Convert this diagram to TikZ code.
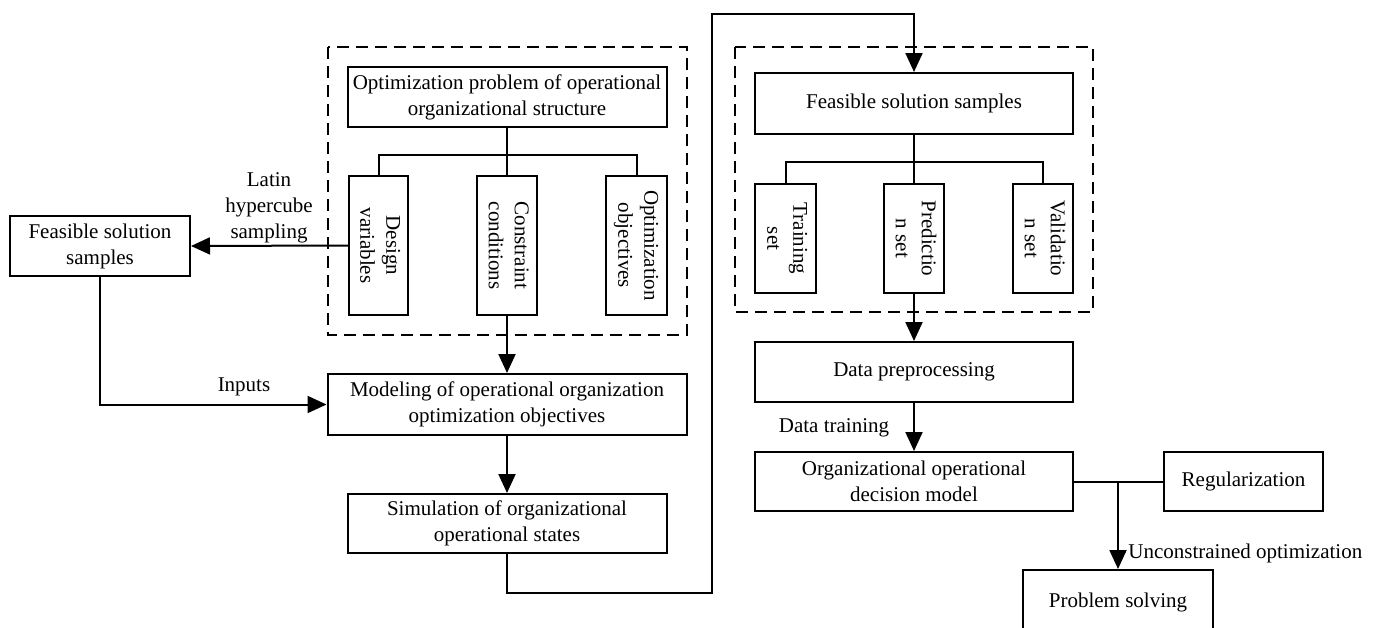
\documentclass[tikz,border=0pt]{standalone}
\usepackage{fontspec}
\setmainfont{Liberation Serif}
\usepackage{graphicx}
\usetikzlibrary{arrows.meta}
\newcommand{\vtext}[1]{\rotatebox{-90}{\begin{tabular}{@{}c@{}}#1\end{tabular}}}
\begin{document}
\begin{tikzpicture}[x=0.5pt,y=-0.5pt,
  box/.style={draw, line width=1pt, inner sep=0pt, align=center, font=\fontsize{10.5}{13}\selectfont},
  lbl/.style={inner sep=0pt, align=center, font=\fontsize{10.5}{13}\selectfont},
  line/.style={line width=1pt},
  arr/.style={line width=1pt, -{Triangle[length=9.5pt,width=8.5pt]}},
  dashedbox/.style={line width=1pt, dash pattern=on 6pt off 3.5pt}]
\useasboundingbox (0,0) rectangle (1379,627);
% left group
\draw[dashedbox] (328,47) rectangle (687,335);
\node[box, minimum width=159.5pt, minimum height=30pt] (opt) at (507,97) {Optimization problem of operational\\organizational structure};
\node[box, minimum width=29.5pt, minimum height=69.5pt] (dv) at (378.5,245.5) {\vtext{Design\\variables}};
\node[box, minimum width=30pt, minimum height=69.5pt] (cc) at (507,245.5) {\vtext{Constraint\\conditions}};
\node[box, minimum width=30.5pt, minimum height=69.5pt] (oo) at (636.5,245.5) {\vtext{Optimization\\objectives}};
\node[box, minimum width=90pt, minimum height=30pt] (fsl) at (100,246) {Feasible solution\\samples};
\node[box, minimum width=179.5pt, minimum height=30.5pt] (mod) at (507,404.5) {Modeling of operational organization\\optimization objectives};
\node[box, minimum width=159.5pt, minimum height=29.5pt] (sim) at (507,523.5) {Simulation of organizational\\operational states};
% right group
\draw[dashedbox] (735,47) rectangle (1093,312);
\node[box, minimum width=159pt, minimum height=30.5pt] (fsr) at (914,103.5) {Feasible solution samples};
\node[box, minimum width=30.5pt, minimum height=54.5pt] (ts) at (785.5,238.5) {\vtext{Training\\set}};
\node[box, minimum width=30pt, minimum height=54.5pt] (pset) at (914,238.5) {\vtext{Predictio\\n set}};
\node[box, minimum width=30pt, minimum height=54.5pt] (vset) at (1043,238.5) {\vtext{Validatio\\n set}};
\node[box, minimum width=159pt, minimum height=30pt] (dp) at (914,372) {Data preprocessing};
\node[box, minimum width=159pt, minimum height=29.5pt] (odm) at (914,481.5) {Organizational operational\\decision model};
\node[box, minimum width=79.5pt, minimum height=29.5pt] (reg) at (1243.5,481.5) {Regularization};
\node[box, minimum width=95pt, minimum height=32pt] (solve) at (1118,602) {Problem solving};
% labels
\node[lbl] (lhs) at (269,208) {Latin\\hypercube\\sampling};
\node[lbl] (inputs) at (244,387) {Inputs};
\node[lbl] (dt) at (834,428) {Data training};
\node[lbl, anchor=west] (uo) at (1128,553) {Unconstrained optimization};
% connectors
\coordinate (bus1) at (507,155);
\draw[line] (opt.south) -- (cc.north);
\draw[line] (dv.north) |- (bus1) -| (oo.north);
\draw[arr] (dv.west) -- (fsl.east);
\draw[arr] (cc.south) -- (mod.north);
\draw[arr] (fsl.south) |- (mod.west);
\draw[arr] (mod.south) -- (sim.north);
\coordinate (c1) at (712,593);
\coordinate (c2) at (712,14);
\draw[arr] (sim.south) |- (c1) -- (c2) -| (fsr.north);
\coordinate (bus2) at (914,162);
\draw[line] (fsr.south) -- (pset.north);
\draw[line] (ts.north) |- (bus2) -| (vset.north);
\draw[arr] (pset.south) -- (dp.north);
\draw[arr] (dp.south) -- (odm.north);
\draw[line] (odm.east) -- (reg.west);
\coordinate (j) at (1118,481.5);
\draw[arr] (j) -- (solve.north);
\end{tikzpicture}
\end{document}
